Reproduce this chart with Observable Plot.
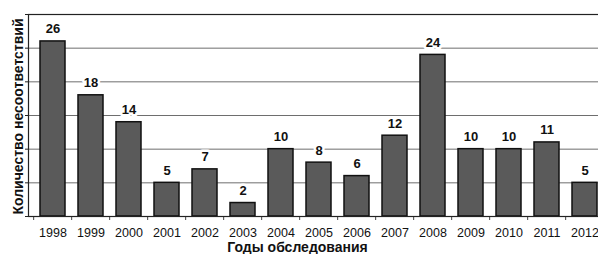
<!DOCTYPE html>
<html>
<head>
<meta charset="utf-8">
<script src="https://cdn.jsdelivr.net/npm/d3@7"></script>
<script src="https://cdn.jsdelivr.net/npm/@observablehq/plot@0.6"></script>
<style>
  html, body { margin: 0; padding: 0; background: white; }
  #chart { width: 598px; height: 254px; overflow: hidden; }
</style>
</head>
<body>
<div id="chart"></div>
<script>
const years = ["1998","1999","2000","2001","2002","2003","2004","2005","2006","2007","2008","2009","2010","2011","2012"];
const counts = [26, 18, 14, 5, 7, 2, 10, 8, 6, 12, 24, 10, 10, 11, 5];
const yTicks = [0, 5, 10, 15, 20, 25, 30];
const xTitle = "Годы обследования";
const yTitle = "Количество несоответствий";

const data = years.map((year, i) => ({year, value: counts[i]}));

const W = 598, H = 254;
const mL = 28, mR = -10, mT = 14, mB = 38;
const step = (W - mL - mR) / years.length;
const font = "'Liberation Sans', Arial, sans-serif";

const chart = Plot.plot({
  width: W,
  height: H,
  marginLeft: mL,
  marginRight: mR,
  marginTop: mT,
  marginBottom: mB,
  style: {fontFamily: font, fontSize: "12.5px", background: "white", color: "black"},
  x: {type: "band", domain: years, paddingInner: 0.35, paddingOuter: 0.175, align: 0.5},
  y: {domain: [0, 30]},
  marks: [
    Plot.gridY(yTicks, {stroke: "#6e6e6e", strokeOpacity: 1}),
    Plot.axisY(yTicks, {tickSize: 3, tickFormat: () => "", label: null, stroke: "#222"}),
    Plot.axisX({tickSize: 0, tickPadding: 12, label: null, fontSize: 12.5, fill: "#111"}),
    Plot.ruleX(years, {x: d => d, y1: 0, y2: 0, insetBottom: -4, dx: -step / 2, stroke: "#444"}),
    Plot.barY(data, {x: "year", y: "value", fill: "#5a5a5a", stroke: "#111", strokeWidth: 1.5}),
    Plot.frame({stroke: "#222", strokeWidth: 1.2}),
    Plot.text(data, {x: "year", y: "value", text: d => String(d.value), dy: -8, lineAnchor: "bottom",
      fontWeight: "bold", fontSize: 13, fill: "#111", stroke: "white", strokeWidth: 5, paintOrder: "stroke"}),
    Plot.text([xTitle], {frameAnchor: "bottom", dy: 31, dx: -21, lineAnchor: "middle", textAnchor: "middle",
      fontWeight: "bold", fontSize: 14, fill: "#111"}),
    Plot.text([yTitle], {frameAnchor: "left", dx: -10, dy: 1, rotate: -90, lineAnchor: "middle", textAnchor: "middle",
      fontWeight: "bold", fontSize: 14, fill: "#111"})
  ]
});
document.getElementById("chart").appendChild(chart);
</script>
</body>
</html>
